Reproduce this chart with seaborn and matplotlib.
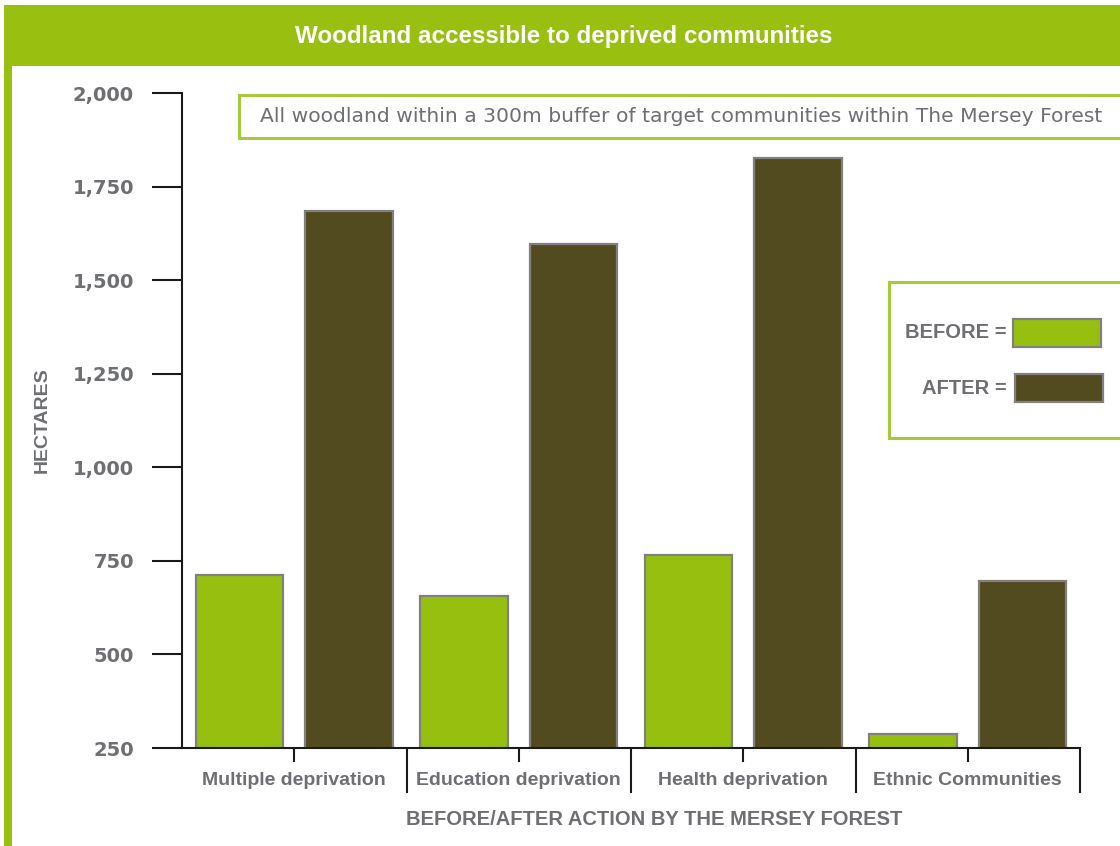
import matplotlib
matplotlib.use("Agg")
import matplotlib.pyplot as plt
from matplotlib.patches import Rectangle
from matplotlib.ticker import FixedLocator, FuncFormatter
import pandas as pd
import seaborn as sns

# ---- data -------------------------------------------------------------
categories = ["Multiple deprivation", "Education deprivation",
              "Health deprivation", "Ethnic Communities"]
periods = ["BEFORE", "AFTER"]
before_ha = [712, 656, 766, 287]
after_ha = [1685, 1597, 1826, 696]
y_ticks = [250, 500, 750, 1000, 1250, 1500, 1750, 2000]

title = "Woodland accessible to deprived communities"
note = "All woodland within a 300m buffer of target communities within The Mersey Forest"
x_title = "BEFORE/AFTER ACTION BY THE MERSEY FOREST"
y_title = "HECTARES"

# ---- styling ----------------------------------------------------------
GREEN = "#97bf0f"
OLIVE = "#534b20"
FRAME_GREEN = "#99c011"
BOX_GREEN = "#a6cb3a"
TEXT_GREY = "#6e6f73"
EDGE_GREY = "#808080"
AXIS_BLACK = "#1a1a1a"
SANS = ["Liberation Sans", "DejaVu Sans"]
WIDE = ["DejaVu Sans"]

W, H = 1120, 846

sns.set_style("white")
plt.rcParams["font.family"] = SANS

df = pd.DataFrame({
    "category": categories * 2,
    "period": [periods[0]] * len(categories) + [periods[1]] * len(categories),
    "hectares": before_ha + after_ha,
})

fig = plt.figure(figsize=(W / 100, H / 100), dpi=100)


def fx(px):
    return px / W


def fy(py):
    return 1 - py / H


# green frame: heading band and left strip
fig.patches.append(Rectangle((fx(4), fy(66)), fx(1120 - 4), 61 / H,
                             transform=fig.transFigure, facecolor=FRAME_GREEN,
                             edgecolor="none", zorder=0))
fig.patches.append(Rectangle((fx(4), 0), fx(8), fy(5),
                             transform=fig.transFigure, facecolor=FRAME_GREEN,
                             edgecolor="none", zorder=0))
fig.text(fx(564), fy(36), title, color="white", fontsize=17.4,
         fontweight="bold", ha="center", va="center")

ax = fig.add_axes([fx(182), fy(748), fx(1080 - 182), (748 - 93) / H])
ax.patch.set_alpha(0)

palette = {periods[0]: GREEN, periods[1]: OLIVE}
sns.barplot(data=df, x="category", y="hectares", hue="period",
            order=categories, hue_order=periods, palette=palette,
            saturation=1, width=0.976, gap=0.2, errorbar=None,
            edgecolor=EDGE_GREY, linewidth=1.6, legend=False, ax=ax)

ax.set_ylim(y_ticks[0], y_ticks[-1])
ax.set_xlim(-0.5, len(categories) - 0.5)

# y axis
ax.yaxis.set_major_locator(FixedLocator(y_ticks))
ax.yaxis.set_major_formatter(FuncFormatter(lambda v, _: f"{int(v):,}"))
ax.tick_params(axis="y", which="major", left=True, length=21.6, width=1.5,
               color=AXIS_BLACK, pad=13, labelsize=14, labelcolor=TEXT_GREY)
for lab in ax.get_yticklabels():
    lab.set_fontweight("bold")
    lab.set_family(WIDE)

# x axis: short ticks at category centres, long dividers between categories
ax.set_xticks(range(len(categories)))
ax.set_xticklabels(categories)
ax.xaxis.set_minor_locator(FixedLocator([i + 0.5 for i in range(len(categories))]))
ax.tick_params(axis="x", which="major", bottom=True, length=10, width=1.5,
               color=AXIS_BLACK, pad=7, labelsize=14, labelcolor=TEXT_GREY)
ax.tick_params(axis="x", which="minor", bottom=True, length=32.5, width=1.5,
               color=AXIS_BLACK)
for lab in ax.get_xticklabels():
    lab.set_fontweight("bold")

for side in ("top", "right"):
    ax.spines[side].set_visible(False)
for side in ("left", "bottom"):
    ax.spines[side].set_color(AXIS_BLACK)
    ax.spines[side].set_linewidth(1.5)

ax.set_xlabel(x_title, fontsize=14.5, fontweight="bold", color=TEXT_GREY)
ax.xaxis.set_label_coords((654 - 182) / (1080 - 182), (748 - 810) / (748 - 93))
ax.set_ylabel(y_title, fontsize=14, fontweight="bold", color=TEXT_GREY)
ax.yaxis.set_label_coords((51 - 182) / (1080 - 182), 0.5)

# note box above the bars
fig.patches.append(Rectangle((fx(239), fy(138)), fx(1130 - 239), 43 / H,
                             transform=fig.transFigure, facecolor="white",
                             edgecolor=BOX_GREEN, linewidth=2.2, zorder=3))
fig.text(fx(260), fy(117), note, color=TEXT_GREY, fontsize=14.6,
         family=WIDE, ha="left", va="center", zorder=4)

# legend panel
fig.patches.append(Rectangle((fx(889), fy(438)), fx(1130 - 889), 156 / H,
                             transform=fig.transFigure, facecolor="white",
                             edgecolor=BOX_GREEN, linewidth=2.2, zorder=3))
legend_rows = [(periods[0], GREEN, 333, 1013), (periods[1], OLIVE, 388, 1015)]
for name, colour, yc, x0 in legend_rows:
    fig.text(fx(1007), fy(yc), f"{name} =", color=TEXT_GREY, fontsize=14.5,
             fontweight="bold", ha="right", va="center", zorder=4)
    fig.patches.append(Rectangle((fx(x0), fy(yc + 14)), fx(88), 28 / H,
                                 transform=fig.transFigure, facecolor=colour,
                                 edgecolor=EDGE_GREY, linewidth=1.6, zorder=4))

fig.savefig("out.png", dpi=100, facecolor="white")
